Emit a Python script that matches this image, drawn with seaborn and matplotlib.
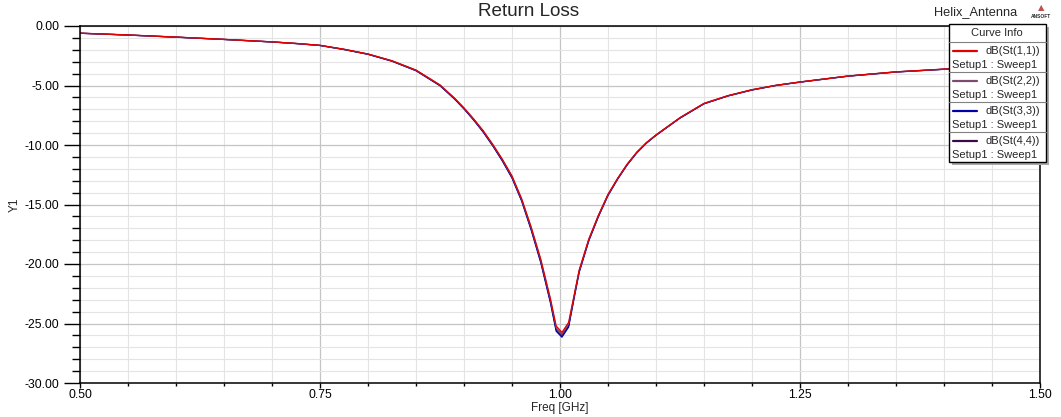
import numpy as np
import pandas as pd
import matplotlib
matplotlib.use("Agg")
import matplotlib.pyplot as plt
import seaborn as sns
from matplotlib.lines import Line2D
from matplotlib.patches import Rectangle
from matplotlib.ticker import MultipleLocator, FormatStrFormatter

# Return loss data
freq = [0.50, 0.55, 0.60, 0.65, 0.70, 0.725, 0.75, 0.775, 0.80, 0.825,
        0.85, 0.875, 0.89, 0.90, 0.91, 0.92, 0.93, 0.94, 0.95, 0.96,
        0.97, 0.98, 0.99, 0.996, 1.002, 1.009, 1.015, 1.02, 1.03, 1.04,
        1.05, 1.06, 1.07, 1.08, 1.09, 1.10, 1.125, 1.15, 1.175, 1.20,
        1.225, 1.25, 1.30, 1.35, 1.40, 1.45, 1.50]

s11 = [-0.60, -0.75, -0.93, -1.12, -1.33, -1.46, -1.62, -1.95, -2.35, -2.92,
       -3.70, -4.95, -6.05, -6.88, -7.80, -8.80, -9.95, -11.20, -12.60, -14.50,
       -16.90, -19.60, -22.90, -25.20, -25.75, -24.90, -22.50, -20.50, -17.90, -15.90,
       -14.15, -12.80, -11.60, -10.60, -9.80, -9.15, -7.70, -6.50, -5.85, -5.35,
       -4.98, -4.70, -4.20, -3.85, -3.62, -3.45, -3.30]

s22 = [-0.60, -0.76, -0.93, -1.13, -1.34, -1.47, -1.63, -1.96, -2.36, -2.93,
       -3.72, -4.97, -6.07, -6.91, -7.83, -8.84, -9.99, -11.25, -12.66, -14.57,
       -16.98, -19.70, -23.02, -25.35, -25.88, -25.02, -22.58, -20.56, -17.95, -15.94,
       -14.18, -12.83, -11.62, -10.62, -9.81, -9.16, -7.71, -6.51, -5.86, -5.36,
       -4.99, -4.71, -4.21, -3.86, -3.63, -3.46, -3.31]

s33 = [-0.61, -0.76, -0.94, -1.13, -1.34, -1.48, -1.64, -1.98, -2.38, -2.96,
       -3.76, -5.02, -6.13, -6.97, -7.90, -8.92, -10.08, -11.35, -12.78, -14.70,
       -17.15, -19.90, -23.25, -25.65, -26.15, -25.30, -22.75, -20.70, -18.05, -16.02,
       -14.25, -12.88, -11.67, -10.66, -9.85, -9.19, -7.74, -6.54, -5.88, -5.38,
       -5.00, -4.72, -4.22, -3.87, -3.64, -3.47, -3.32]

s44 = [-0.61, -0.76, -0.94, -1.13, -1.34, -1.47, -1.63, -1.97, -2.37, -2.95,
       -3.74, -5.00, -6.10, -6.94, -7.87, -8.88, -10.04, -11.30, -12.72, -14.64,
       -17.07, -19.80, -23.14, -25.52, -26.02, -25.18, -22.66, -20.63, -18.00, -15.98,
       -14.21, -12.85, -11.65, -10.64, -9.83, -9.18, -7.73, -6.53, -5.87, -5.37,
       -4.99, -4.71, -4.21, -3.86, -3.63, -3.46, -3.31]

trace_names = ["dB(St(1,1))", "dB(St(2,2))", "dB(St(3,3))", "dB(St(4,4))"]
trace_colors = ["#e00000", "#7a4a70", "#0000a8", "#3a0a48"]

sns.set_style("white")
plt.rcParams["font.family"] = ["Liberation Sans", "DejaVu Sans"]

W, H = 1061, 417
fig = plt.figure(figsize=(W / 100, H / 100), dpi=100)
ax = fig.add_axes([80 / W, 1 - 383 / H, 960 / W, 357 / H])

# draw the red trace last so it sits on top, like the original
order = [3, 2, 1, 0]
series = [s11, s22, s33, s44]
for i in order:
    sns.lineplot(x=freq, y=series[i], ax=ax, color=trace_colors[i],
                 linewidth=0.9, sort=False, estimator=None)

ax.set_xlim(0.5, 1.5)
ax.set_ylim(-30, 0)

ax.xaxis.set_major_locator(MultipleLocator(0.25))
ax.xaxis.set_minor_locator(MultipleLocator(0.05))
ax.yaxis.set_major_locator(MultipleLocator(5))
ax.yaxis.set_minor_locator(MultipleLocator(1))
ax.xaxis.set_major_formatter(FormatStrFormatter("%.2f"))
ax.yaxis.set_major_formatter(FormatStrFormatter("%.2f"))

ax.grid(which="major", color="#c4c4c4", linewidth=0.9)
ax.grid(which="minor", color="#e4e4e4", linewidth=0.8)
ax.set_axisbelow(True)

for sp in ax.spines.values():
    sp.set_color("black")
    sp.set_linewidth(1.1)

ax.tick_params(axis="y", which="major", direction="out", length=11.5, width=1,
               pad=3.5, labelsize=8.8, colors="black")
ax.tick_params(axis="y", which="minor", direction="out", length=5.8, width=1,
               colors="black")
ax.tick_params(axis="x", which="major", direction="out", length=3.6, width=1,
               pad=1, labelsize=8.8, colors="black")
ax.tick_params(axis="x", which="minor", direction="out", length=2.2, width=1,
               colors="black")
ax.tick_params(left=True, bottom=True, which="both")

ax.set_xlabel("Freq [GHz]", fontsize=8.5)
ax.xaxis.set_label_coords(0.5, -0.052)
ax.set_ylabel("Y1", fontsize=8.5)
ax.yaxis.set_label_coords(-0.062, 0.5)

# Titles
fig.text(529 / W, 1 - 12 / H, "Return Loss", ha="center", va="center", fontsize=13.6)
fig.text(1017 / W, 1 - 12 / H, "Helix_Antenna", ha="right", va="center", fontsize=9.2)
fig.text(1041 / W, 1 - 8 / H, "\u25B2", ha="center", va="center", fontsize=6,
         color="#c05050", family=["DejaVu Sans"])
fig.text(1041 / W, 1 - 17 / H, "ANSOFT", ha="center", va="center", fontsize=3.5,
         weight="bold")

# Curve Info box
def fx(px):
    return px / W

def fy(py):
    return 1 - py / H

box_l, box_r, box_t, box_b = 949, 1046, 24, 162
fig.add_artist(Rectangle((fx(box_l + 3), fy(box_b + 3)), fx(box_r - box_l), (box_b - box_t) / H,
                         transform=fig.transFigure, facecolor="#a8a8a8", edgecolor="none", zorder=5))
fig.add_artist(Rectangle((fx(box_l), fy(box_b)), fx(box_r - box_l), (box_b - box_t) / H,
                         transform=fig.transFigure, facecolor="white", edgecolor="black",
                         linewidth=1, zorder=6))
fig.text(fx(997), fy(33), "Curve Info", ha="center", va="center", fontsize=8, zorder=7)

for k in range(4):
    top = 42 + 30 * k
    fig.add_artist(Line2D([fx(box_l), fx(box_r)], [fy(top), fy(top)], color="#808080",
                          linewidth=0.8, transform=fig.transFigure, zorder=7))
    fig.add_artist(Line2D([fx(953), fx(977)], [fy(top + 9), fy(top + 9)],
                          color=trace_colors[k], linewidth=1.6,
                          transform=fig.transFigure, zorder=7))
    fig.text(fx(1040), fy(top + 9), trace_names[k], ha="right", va="center",
             fontsize=8, zorder=7)
    fig.text(fx(952), fy(top + 23), "Setup1 : Sweep1", ha="left", va="center",
             fontsize=8, zorder=7)

plt.savefig("out.png", dpi=100)
